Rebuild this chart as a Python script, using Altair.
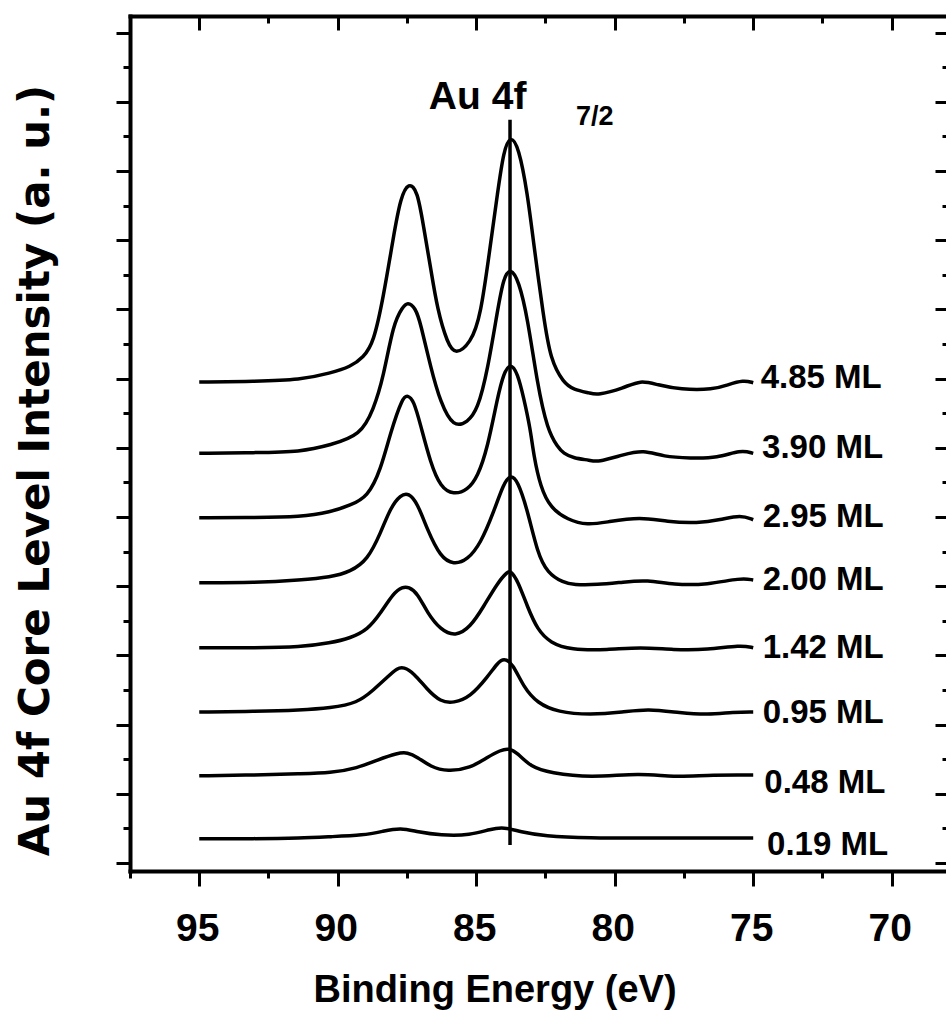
import altair as alt
import pandas as pd

# ---------------- data ----------------
series_names = ["4.85 ML", "3.90 ML", "2.95 ML", "2.00 ML", "1.42 ML", "0.95 ML", "0.48 ML", "0.19 ML"]

e_485 = [95.0, 93.0, 91.34, 90.26, 89.54, 89.07, 88.71, 88.35, 87.99, 87.73, 87.44, 87.12, 86.90, 86.65,
         86.40, 86.04, 85.75, 85.21, 84.84, 84.48, 84.23, 84.01, 83.76, 83.47, 83.15, 82.93, 82.57, 82.32,
         81.85, 81.49, 80.88, 80.63, 79.69, 79.07, 78.46, 77.63, 76.43, 75.93, 75.35, 75.0]
i_485 = [69.5, 69.6, 69.8, 70.8, 71.7, 73.1, 75.1, 81.8, 90.5, 96.2, 98.4, 97.2, 91.9, 86.1,
         79.9, 75.1, 73.4, 75.1, 78.9, 89.6, 96.8, 103.0, 105.2, 103.5, 96.8, 89.6, 78.9, 72.7,
         69.4, 68.4, 67.9, 67.6, 68.6, 69.8, 69.1, 68.4, 68.4, 69.1, 69.8, 69.4]

e_390 = [95.0, 93.0, 91.34, 90.26, 89.18, 88.71, 88.35, 87.99, 87.66, 87.48, 87.19, 87.01, 86.65, 86.29,
         85.82, 85.31, 84.95, 84.59, 84.23, 84.01, 83.76, 83.47, 83.15, 82.79, 82.43, 82.06, 81.85,
         81.49, 80.88, 80.63, 79.69, 78.96, 78.24, 77.27, 76.29, 75.45, 75.0]
i_390 = [59.2, 59.3, 59.4, 60.4, 61.8, 65.5, 70.2, 78.0, 80.3, 81.1, 80.2, 78.0, 71.7, 66.5,
         62.9, 63.7, 65.5, 71.2, 79.9, 84.7, 86.0, 84.2, 78.9, 69.1, 62.6, 60.1, 59.2,
         58.5, 58.2, 57.9, 59.0, 59.7, 58.7, 58.5, 58.5, 59.7, 59.2]

e_295 = [95.0, 93.0, 91.34, 90.26, 89.54, 88.92, 88.45, 88.09, 87.66, 87.48, 87.26, 87.01, 86.65, 86.29,
         85.82, 85.31, 84.95, 84.59, 84.23, 84.01, 83.76, 83.51, 83.29, 83.04, 82.93, 82.68, 82.32,
         81.70, 80.98, 80.26, 79.07, 78.10, 77.01, 76.18, 75.45, 75.0]
i_295 = [49.9, 49.9, 50.0, 50.7, 51.7, 52.9, 56.8, 62.3, 67.3, 67.6, 66.9, 63.3, 57.8, 54.3,
         53.2, 53.9, 55.8, 60.0, 67.3, 70.8, 72.3, 70.8, 67.3, 62.6, 59.0, 54.3, 51.3,
         49.6, 48.8, 49.3, 50.0, 49.3, 49.1, 49.6, 50.3, 49.6]

e_200 = [95.0, 93.0, 91.34, 90.26, 89.54, 88.92, 88.45, 88.09, 87.73, 87.44, 87.12, 86.76, 86.29, 85.82,
         85.31, 84.84, 84.38, 84.01, 83.76, 83.51, 83.15, 82.79, 82.43, 81.85, 81.49, 80.63, 79.69,
         78.82, 77.88, 76.65, 75.45, 75.0]
i_200 = [40.5, 40.5, 40.9, 41.3, 42.1, 43.8, 47.7, 51.4, 53.2, 53.5, 52.0, 48.1, 44.2, 43.1,
         43.8, 46.2, 50.6, 54.9, 56.1, 55.3, 51.0, 44.8, 41.9, 40.5, 40.2, 40.2, 40.6,
         40.9, 40.2, 40.2, 41.2, 40.9]

e_142 = [95.0, 93.0, 91.34, 90.26, 89.54, 88.92, 88.45, 87.99, 87.66, 87.44, 87.12, 86.76, 86.29, 85.75,
         85.21, 84.74, 84.23, 83.87, 83.76, 83.51, 83.15, 82.79, 82.32, 81.59, 80.26, 79.07, 77.88,
         76.65, 75.45, 75.0]
i_142 = [31.1, 31.1, 31.2, 31.8, 32.5, 33.7, 36.1, 39.0, 39.9, 39.9, 39.0, 36.1, 33.7, 32.7,
         34.1, 37.0, 40.5, 42.1, 42.2, 40.9, 37.0, 33.7, 31.8, 30.8, 30.8, 31.2, 30.8,
         30.8, 31.5, 31.1]

e_095 = [95.0, 93.0, 91.34, 90.26, 89.29, 88.71, 88.20, 87.84, 87.62, 87.26, 86.76, 86.29, 85.82, 85.21,
         84.59, 84.23, 84.01, 83.69, 83.29, 82.79, 82.06, 80.88, 79.69, 78.82, 77.63, 76.65, 75.70, 75.0]
i_095 = [21.8, 21.9, 22.1, 22.4, 23.1, 25.0, 26.9, 28.2, 28.3, 27.5, 25.0, 23.3, 23.1, 24.0,
         26.9, 28.9, 29.6, 28.9, 25.4, 23.1, 21.8, 21.4, 21.8, 22.3, 21.7, 21.4, 21.8, 21.8]

e_048 = [95.0, 93.0, 91.34, 90.26, 89.29, 88.56, 87.84, 87.48, 87.12, 86.65, 86.04, 85.21, 84.59, 84.12,
         83.83, 83.51, 83.04, 82.32, 80.88, 79.07, 77.88, 76.65, 75.45, 75.0]
i_048 = [12.6, 12.7, 12.9, 13.0, 13.7, 14.9, 15.9, 16.0, 15.3, 13.9, 13.2, 13.7, 15.3, 16.3,
         16.6, 15.9, 13.9, 13.0, 12.3, 13.0, 12.4, 12.7, 12.7, 12.7]

e_019 = [95.0, 93.0, 91.34, 90.26, 89.07, 88.35, 87.73, 87.12, 86.29, 85.21, 84.48, 84.01, 83.40, 82.57,
         80.88, 79.07, 77.01, 75.0]
i_019 = [3.5, 3.5, 3.6, 3.8, 4.0, 4.6, 5.1, 4.5, 4.0, 4.0, 4.9, 5.2, 4.5, 3.9,
         3.6, 3.6, 3.6, 3.6]

energies = [e_485, e_390, e_295, e_200, e_142, e_095, e_048, e_019]
intensities = [i_485, i_390, i_295, i_200, i_142, i_095, i_048, i_019]

# label anchors (data coordinates)
label_energy = [74.73, 74.68, 74.66, 74.66, 74.66, 74.66, 74.6, 74.5]
label_intensity = [68.6, 58.5, 48.6, 39.5, 29.6, 20.2, 10.1, 1.2]

# vertical marker at the Au 4f7/2 peak
marker_energy = [83.78]
marker_top = [107.4]
marker_bottom = [2.6]

title_text = ["Au 4f"]
title_energy = [84.95]
title_intensity = [109.0]
sub_text = ["7/2"]
sub_energy = [81.4]
sub_intensity = [106.6]

x_major = [95, 90, 85, 80, 75, 70]
x_minor = [97.5, 92.5, 87.5, 82.5, 77.5, 72.5]
y_major = [0, 10, 20, 30, 40, 50, 60, 70, 80, 90, 100, 110, 120]
y_minor = [5, 15, 25, 35, 45, 55, 65, 75, 85, 95, 105, 115]

# ---------------- tables ----------------
rows = []
for name, es, vs in zip(series_names, energies, intensities):
    for e, v in zip(es, vs):
        rows.append({"series": name, "E": e, "I": v})
curves = pd.DataFrame(rows)
labels = pd.DataFrame({"text": series_names, "E": label_energy, "I": label_intensity})
marker = pd.DataFrame({"E": marker_energy, "top": marker_top, "bottom": marker_bottom})
title_df = pd.DataFrame({"text": title_text, "E": title_energy, "I": title_intensity})
sub_df = pd.DataFrame({"text": sub_text, "E": sub_energy, "I": sub_intensity})

FONT = "Liberation Sans"
x_scale = alt.Scale(domain=[97.5, 68.04], nice=False, zero=False)
y_scale = alt.Scale(domain=[-1.16, 122.4], nice=False, zero=False)

common_axis = dict(domainColor="black", tickColor="black", tickWidth=3, domainWidth=4,
                   domainCap="square", grid=False)

x_bottom_major = alt.Axis(orient="bottom", values=x_major, tickSize=15, labelPadding=23,
                          labelFont=FONT, labelFontSize=39, labelFontWeight="bold", labelColor="black",
                          labelOffset=-2,
                          title="Binding Energy (eV)", titleFont=FONT, titleFontSize=38,
                          titleFontWeight="bold", titleColor="black", titleX=364.5, titleY=130,
                          titleBaseline="alphabetic", titleAlign="center", **common_axis)
x_bottom_minor = alt.Axis(orient="bottom", values=x_minor, tickSize=7, labels=False, domain=False,
                          title="", tickColor="black", tickWidth=3, grid=False)
x_top_major = alt.Axis(orient="top", values=x_major, tickSize=14, offset=-14, labels=False,
                       domain=False, title="", tickColor="black", tickWidth=3, grid=False)
x_top_minor = alt.Axis(orient="top", values=x_minor, tickSize=7, offset=-7, labels=False,
                       domain=False, title="", tickColor="black", tickWidth=3, grid=False)
x_top_line = alt.Axis(orient="top", ticks=False, labels=False, title="", **common_axis)

y_left_major = alt.Axis(orient="left", values=y_major, tickSize=14, labels=False,
                        title="Au 4f Core Level Intensity (a. u.)", titleFont="DejaVu Sans",
                        titleFontSize=42, titleFontWeight="bold", titleColor="black",
                        titleX=-82, titleY=454, titleAngle=270, titleBaseline="alphabetic",
                        titleAlign="center", **common_axis)
y_left_minor = alt.Axis(orient="left", values=y_minor, tickSize=7, labels=False, domain=False,
                        title="", tickColor="black", tickWidth=3, grid=False)
y_right_major = alt.Axis(orient="right", values=y_major, tickSize=11, offset=-11, labels=False,
                         domain=False, title="", tickColor="black", tickWidth=3, grid=False)
y_right_minor = alt.Axis(orient="right", values=y_minor, tickSize=4, offset=-4, labels=False,
                         domain=False, title="", tickColor="black", tickWidth=3, grid=False)

lines = alt.Chart(curves).mark_line(color="black", strokeWidth=3.5, interpolate="basis").encode(
    x=alt.X("E:Q", scale=x_scale, axis=x_bottom_major),
    y=alt.Y("I:Q", scale=y_scale, axis=y_left_major),
    detail="series:N",
    order="E:Q",
)

rule = alt.Chart(marker).mark_rule(color="black", strokeWidth=3.5).encode(
    x=alt.X("E:Q", scale=x_scale, axis=x_bottom_minor),
    y=alt.Y("top:Q", scale=y_scale, axis=y_left_minor),
    y2="bottom:Q",
)

label_marks = alt.Chart(labels).mark_text(align="left", baseline="alphabetic", font=FONT,
                                          fontSize=33, fontWeight="bold", color="black").encode(
    x=alt.X("E:Q", scale=x_scale, axis=x_top_major),
    y=alt.Y("I:Q", scale=y_scale, axis=y_right_major),
    text="text:N",
)

title_mark = alt.Chart(title_df).mark_text(align="center", baseline="alphabetic", font=FONT,
                                           fontSize=39, fontWeight="bold", color="black").encode(
    x=alt.X("E:Q", scale=x_scale, axis=x_top_minor),
    y=alt.Y("I:Q", scale=y_scale, axis=y_right_minor),
    text="text:N",
)

sub_mark = alt.Chart(sub_df).mark_text(align="left", baseline="alphabetic", font=FONT,
                                       fontSize=27, fontWeight="bold", color="black").encode(
    x=alt.X("E:Q", scale=x_scale, axis=x_top_line),
    y=alt.Y("I:Q", scale=y_scale, axis=None),
    text="text:N",
)

chart = alt.layer(lines, rule, label_marks, title_mark, sub_mark).resolve_axis(
    x="independent", y="independent"
).properties(
    width=816, height=855, autosize="none",
    padding={"left": 130, "top": 16, "right": 0, "bottom": 149},
    background="white",
).configure_view(stroke="transparent")

chart.save("out.html", embed_options={"renderer": "svg", "actions": False})
